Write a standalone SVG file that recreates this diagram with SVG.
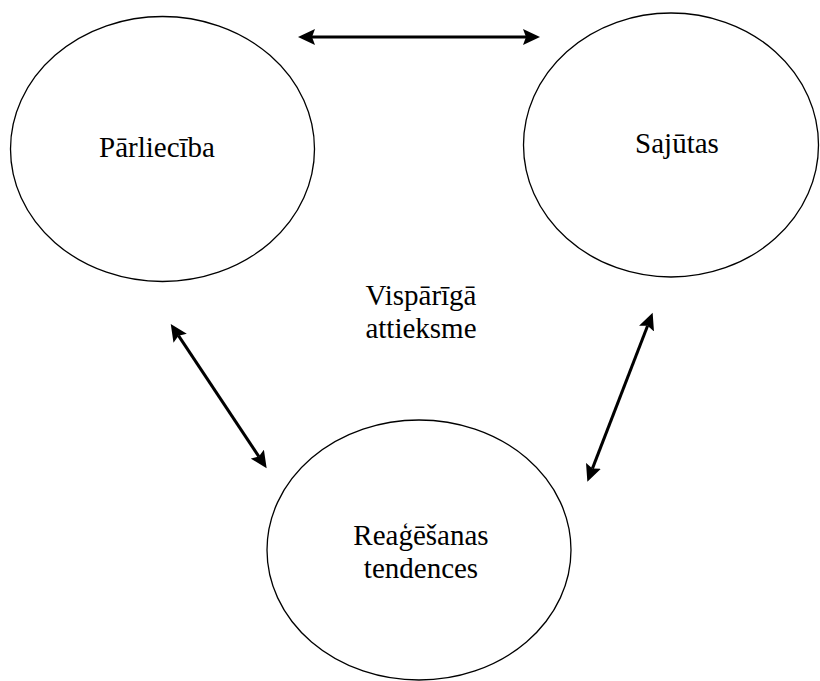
<svg xmlns="http://www.w3.org/2000/svg" width="820" height="681" viewBox="0 0 820 681">
<style>
.node{fill:#fff;stroke:#000;stroke-width:1.3}
.lbl{font-family:"Liberation Serif","Times New Roman",serif;font-size:29px;fill:#000;text-anchor:middle}
.conn{stroke:#000;stroke-width:3;fill:none;marker-start:url(#ah);marker-end:url(#ah)}
</style>
<defs>
<marker id="ah" markerUnits="userSpaceOnUse" markerWidth="18" markerHeight="16" refX="3" refY="8" orient="auto-start-reverse" viewBox="0 0 18 16">
<path d="M0,0 L17,8 L0,16 L3,8 z" fill="#000"/>
</marker>
</defs>
<rect width="820" height="681" fill="#fff"/>
<g id="parliceba">
<ellipse class="node" cx="162.5" cy="149" rx="152" ry="132.5"/>
<text class="lbl" x="157" y="157">Pārliecība</text>
</g>
<g id="sajutas">
<ellipse class="node" cx="671" cy="145" rx="147.5" ry="132"/>
<text class="lbl" x="677" y="153">Sajūtas</text>
</g>
<g id="reagesanas">
<ellipse class="node" cx="419" cy="550" rx="152" ry="130"/>
<text class="lbl" x="421" y="545">Reaģēšanas</text>
<text class="lbl" x="421" y="578">tendences</text>
</g>
<g id="visp">
<text class="lbl" x="421" y="305">Vispārīgā</text>
<text class="lbl" x="421" y="338">attieksme</text>
</g>
<g id="connectors">
<line class="conn" x1="312" y1="37" x2="526" y2="37"/>
<line class="conn" x1="178.5" y1="335.7" x2="258.9" y2="456.6"/>
<line class="conn" x1="647.6" y1="325.8" x2="592.4" y2="468.6"/>
</g>
</svg>
